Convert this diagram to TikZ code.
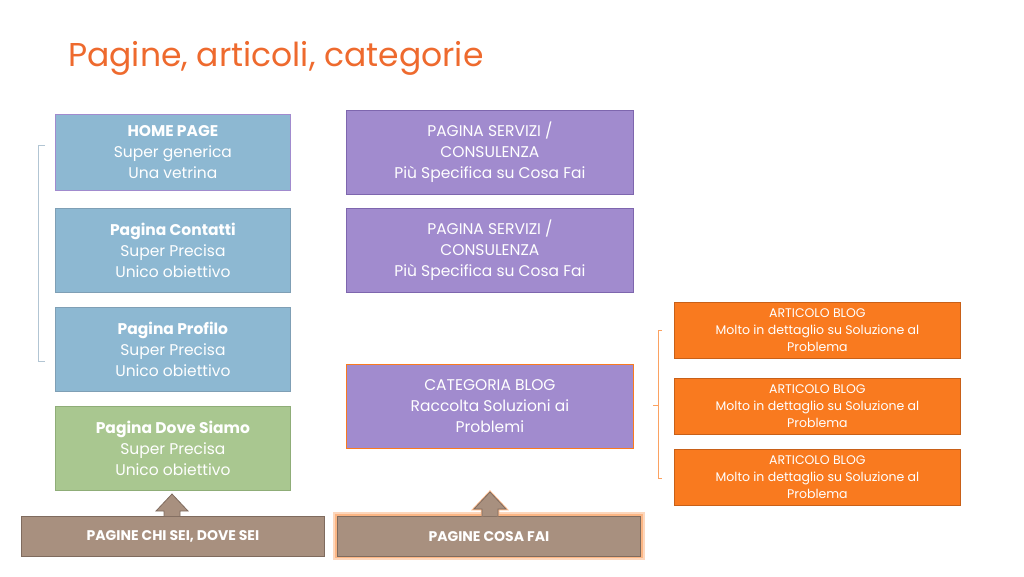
\documentclass[tikz,border=0pt]{standalone}
\usepackage{fontspec}
\setmainfont{Poppins}
\definecolor{titleor}{HTML}{EE6A2E}
\definecolor{bluef}{HTML}{8DB8D2}
\definecolor{blueb}{HTML}{7F9FB5}
\definecolor{greenf}{HTML}{A9C790}
\definecolor{greenb}{HTML}{8FAD78}
\definecolor{purf}{HTML}{A18BCE}
\definecolor{purb}{HTML}{7E66AE}
\definecolor{orf}{HTML}{F97A1F}
\definecolor{orb}{HTML}{C86018}
\definecolor{brownf}{HTML}{A8907F}
\definecolor{brownb}{HTML}{7F6B5E}
\begin{document}
\begin{tikzpicture}[x=1pt,y=-1pt,
  bx/.style={draw, line width=0.8pt, text=white, align=center, inner sep=0pt, anchor=north west, font=\fontsize{15.5}{21}\selectfont},
  art/.style={bx, fill=orf, draw=orb, font=\fontsize{12.5}{17}\selectfont, minimum width=286pt, minimum height=56pt},
  lbox/.style={bx, minimum width=235pt, minimum height=84pt},
  pbox/.style={bx, fill=purf, draw=purb, minimum width=287pt, minimum height=84pt},
  foot/.style={draw=brownb, fill=brownf, line width=0.8pt, text=white, font=\bfseries\fontsize{14}{16}\selectfont, minimum width=303pt, minimum height=40pt, inner sep=0pt, anchor=north west},
  up/.style={draw=brownb, fill=brownf, line width=0.8pt}]
\useasboundingbox (0,0) rectangle (1024,576);
\node[anchor=base west, text=titleor, font=\fontsize{33}{36}\selectfont, inner sep=0pt] (title) at (68,66) {Pagine, articoli, categorie};

\node[lbox, fill=bluef, draw=purf, minimum height=76pt] (home) at (55,114) {\textbf{HOME PAGE}\\Super generica\\Una vetrina};
\node[lbox, fill=bluef, draw=blueb] (cont) at (55,208) {\textbf{Pagina Contatti}\\Super Precisa\\Unico obiettivo};
\node[lbox, fill=bluef, draw=blueb] (prof) at (55,307) {\textbf{Pagina Profilo}\\Super Precisa\\Unico obiettivo};
\node[lbox, fill=greenf, draw=greenb] (dove) at (55,406) {\textbf{Pagina Dove Siamo}\\Super Precisa\\Unico obiettivo};

\node[pbox] (serv1) at (346,110) {PAGINA SERVIZI /\\CONSULENZA\\Più Specifica su Cosa Fai};
\node[pbox] (serv2) at (346,208) {PAGINA SERVIZI /\\CONSULENZA\\Più Specifica su Cosa Fai};
\node[pbox, draw=orf] (cat) at (346,364) {CATEGORIA BLOG\\Raccolta Soluzioni ai\\Problemi};

\node[art] (a1) at (674,302) {ARTICOLO BLOG\\Molto in dettaglio su Soluzione al\\Problema};
\node[art] (a2) at (674,378) {ARTICOLO BLOG\\Molto in dettaglio su Soluzione al\\Problema};
\node[art] (a3) at (674,449) {ARTICOLO BLOG\\Molto in dettaglio su Soluzione al\\Problema};

% brackets
\draw[blueb!60, line width=0.8pt] (45,145) -- (38,145) -- (38,361) -- (45,361);
\draw[orf!70, line width=0.8pt] (662,330) -- (658,330) -- (658,478) -- (662,478);
\draw[orf!70, line width=0.8pt] (658,405) -- (653,405);

% footers
\fill[orf!30] (333,512) rectangle (645,560);
\fill[orf!55] (335,514) rectangle (643,558);
\node[foot] (f1) at (21,516) {PAGINE CHI SEI, DOVE SEI};
\node[foot] (f2) at (337,516) {PAGINE COSA FAI};
\filldraw[up] (164,516) -- (164,511) -- (156,511) -- (172,494) -- (188,511) -- (180,511) -- (180,516);
\filldraw[draw=orf!50, line width=2.5pt, fill=brownf] (482,516) -- (482,509) -- (474,509) -- (490,492) -- (506,509) -- (498,509) -- (498,516);
\filldraw[up] (482,516) -- (482,509) -- (474,509) -- (490,492) -- (506,509) -- (498,509) -- (498,516);
\end{tikzpicture}
\end{document}
